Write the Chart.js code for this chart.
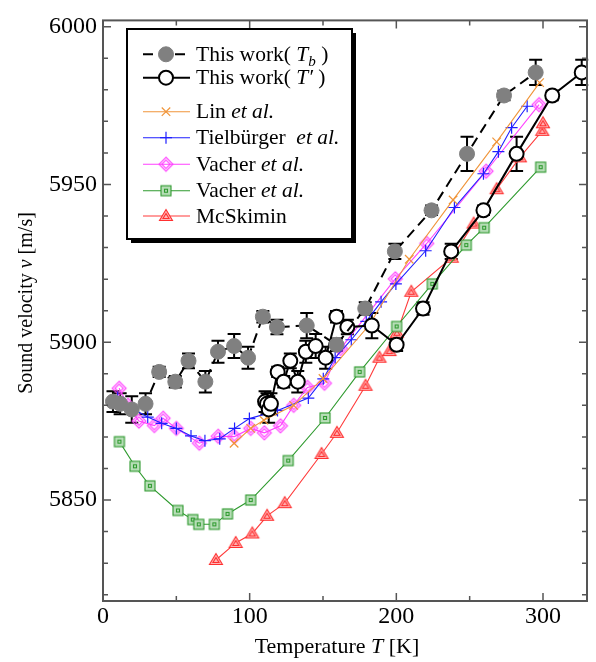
<!DOCTYPE html>
<html>
<head>
<meta charset="utf-8">
<title>Sound velocity vs temperature</title>
<script src="https://cdn.jsdelivr.net/npm/chart.js@4.4.1/dist/chart.umd.min.js"></script>
<style>
  html, body { margin: 0; padding: 0; background: #fff; }
  #wrap { width: 596px; height: 662px; }
</style>
</head>
<body>
<div id="wrap"><canvas id="sound" width="596" height="662"></canvas></div>
<script>
// This work, bath temperature T_b (gray dots, dashed) and corrected T' (open circles)
const tbT  = [6.8, 11.7, 19.6, 29, 38.3, 49.3, 58.3, 69.8, 78.4, 89.4, 98.9, 109, 118.6, 138.9, 159.2, 178.8, 199, 224, 248.2, 273.4, 295];
const tpT  = [110.5, 111.8, 113, 114.5, 119.1, 123.2, 127.7, 132.8, 138.3, 145, 151.8, 159.2, 166.6, 183.3, 200.2, 218.2, 237.4, 259.4, 282, 306.3, 326.4];
const ownV = [5881.2, 5880.5, 5878.7, 5880.5, 5890.6, 5887.5, 5894.1, 5887.5, 5897, 5898.8, 5895.1, 5908.1, 5904.8, 5905.3, 5899.2, 5910.7, 5928.8, 5941.8, 5959.7, 5978.2, 5985.5];
const ownErr = [3.3, 3.3, 4.2, 3.3, 1.6, 1.8, 2.3, 3.4, 3.5, 3.8, 3.5, 1.8, 2.3, 4, 2, 2, 2.4, 1.5, 5.4, 1.5, 4];

// literature
const linT = [89.4, 100.7, 109.7, 130, 150, 181.3, 208.8, 238.7, 268.4, 297.7];
const linV = [5868, 5872.7, 5875.3, 5880, 5888.5, 5905.3, 5926.3, 5945.1, 5963.5, 5982.3];

const tieT = [10, 20, 30.5, 40, 50, 60, 69.5, 79.6, 89.7, 99.8, 119, 140, 150.2, 158.3, 169.3, 179.5, 189.6, 199.7, 220, 239.6, 259.4, 269.6, 278.6, 289.2];
const tieV = [5882.5, 5879, 5876.3, 5874.3, 5872.7, 5870.3, 5868.8, 5869.4, 5872.7, 5875.8, 5878.4, 5882.3, 5888.4, 5895.1, 5900.8, 5906.6, 5912.8, 5918.5, 5929, 5942.7, 5953.4, 5960.4, 5968, 5974.8];

const vacT = [11, 17, 24.5, 35, 41, 50, 65.7, 78.5, 89.6, 100.7, 110, 121, 130, 139.4, 151, 162, 199.3, 220.7, 261.2, 297.3];
const vacV = [5885.4, 5880, 5875, 5873.6, 5875.9, 5872.7, 5868, 5870.2, 5870.1, 5872.7, 5871.3, 5873.5, 5880, 5885.7, 5887, 5898, 5920.1, 5931.3, 5954.2, 5975.3];

const vac2T = [11.2, 21.8, 32, 51.1, 61.2, 65.3, 75.9, 84.9, 100.7, 126.3, 151.4, 175, 200.2, 224.5, 247.7, 259.9, 298.4];
const vac2V = [5868.5, 5860.7, 5854.5, 5846.7, 5843.8, 5842.3, 5842.3, 5845.6, 5850, 5862.5, 5876, 5890.6, 5905, 5918.5, 5930.8, 5936.3, 5955.5];

const mcsT = [77, 90.5, 101.8, 111.9, 123.9, 149, 159.5, 179, 188.5, 195.3, 200.4, 210.2, 237.8, 252.7, 268.4, 284.2, 299.5, 300];
const mcsV = [5831, 5836.4, 5839.4, 5845, 5849, 5864.6, 5871.3, 5886.2, 5895.1, 5897.2, 5903, 5916, 5926.8, 5937.6, 5948.5, 5958.6, 5967, 5969.4];

// axis ticks
const xTicks = [0, 100, 200, 300];
const xMinor = [50, 150, 250];
const yTicks = [5850, 5900, 5950, 6000];
const yMinor = [5820, 5830, 5840, 5860, 5870, 5880, 5890, 5910, 5920, 5930, 5940, 5960, 5970, 5980, 5990];

const SERIF = "'Liberation Serif', serif";
const FRAME = '#555';
Chart.defaults.font.family = SERIF;

function pts(xs, ys) {
  return xs.map((x, i) => ({ x: x, y: ys[i] }));
}

// double-outlined markers (diamond / square / triangle)
function marker(kind, stroke, fill) {
  const c = document.createElement('canvas');
  c.width = c.height = 18;
  const g = c.getContext('2d');
  g.translate(9, 9);
  g.strokeStyle = stroke;
  g.lineWidth = 1.1;
  if (kind === 'diamond') {
    [7, 4.2].forEach(r => {
      g.beginPath();
      g.moveTo(0, -r); g.lineTo(r, 0); g.lineTo(0, r); g.lineTo(-r, 0); g.closePath();
      g.stroke();
    });
  } else if (kind === 'square') {
    g.fillStyle = fill;
    g.fillRect(-5, -5, 10, 10);
    g.strokeRect(-5, -5, 10, 10);
    g.strokeRect(-1.5, -1.5, 3, 3);
  } else {
    g.fillStyle = fill;
    g.beginPath();
    g.moveTo(0, -6.5); g.lineTo(6.5, 4.5); g.lineTo(-6.5, 4.5); g.closePath();
    g.fill(); g.stroke();
    g.beginPath();
    g.moveTo(0, -2.5); g.lineTo(3, 2.5); g.lineTo(-3, 2.5); g.closePath();
    g.stroke();
  }
  return c;
}

const datasets = [
  {
    label: 'tb', data: pts(tbT, ownV), showLine: true,
    borderColor: '#000', borderWidth: 2, borderDash: [10, 6],
    pointStyle: 'circle', pointRadius: 7.5, pointBackgroundColor: '#808080',
    pointBorderColor: '#808080', pointBorderWidth: 1,
    legend: [{ t: 'This work( ' }, { t: 'T', i: true }, { t: 'b', i: true, sub: true }, { t: ' )' }]
  },
  {
    label: 'tp', data: pts(tpT, ownV), showLine: true,
    borderColor: '#000', borderWidth: 2,
    pointStyle: 'circle', pointRadius: 7, pointBackgroundColor: '#fff',
    pointBorderColor: '#000', pointBorderWidth: 2,
    legend: [{ t: 'This work( ' }, { t: 'T\u2032', i: true }, { t: ' )' }]
  },
  {
    label: 'lin', data: pts(linT, linV), showLine: true,
    borderColor: '#f0953a', borderWidth: 1.1,
    pointStyle: 'crossRot', pointRadius: 6, pointBorderColor: '#f0953a',
    pointBackgroundColor: '#f0953a', pointBorderWidth: 1.2,
    legend: [{ t: 'Lin ' }, { t: 'et al.', i: true }]
  },
  {
    label: 'tie', data: pts(tieT, tieV), showLine: true,
    borderColor: '#1f1fff', borderWidth: 1.1,
    pointStyle: 'cross', pointRadius: 6, pointBorderColor: '#1f1fff',
    pointBackgroundColor: '#1f1fff', pointBorderWidth: 1.2,
    legend: [{ t: 'Tielb\u00fcrger  ' }, { t: 'et al.', i: true }]
  },
  {
    label: 'vac', data: pts(vacT, vacV), showLine: true,
    borderColor: '#ff40ff', borderWidth: 1.1,
    pointStyle: marker('diamond', '#ff40ff'), pointRadius: 7,
    legend: [{ t: 'Vacher ' }, { t: 'et al.', i: true }]
  },
  {
    label: 'vac2', data: pts(vac2T, vac2V), showLine: true,
    borderColor: '#2e9a2e', borderWidth: 1.1,
    pointStyle: marker('square', '#2e9a2e', '#b8deb8'), pointRadius: 6,
    legend: [{ t: 'Vacher ' }, { t: 'et al.', i: true }]
  },
  {
    label: 'mcs', data: pts(mcsT, mcsV), showLine: true,
    borderColor: '#ff3b3b', borderWidth: 1.1,
    pointStyle: marker('triangle', '#ff3030', '#ffb4b4'), pointRadius: 7,
    legend: [{ t: 'McSkimin' }]
  }
];

// mixed roman / italic text
function richWidth(ctx, parts, size) {
  let w = 0;
  parts.forEach(p => {
    const s = p.sub ? size * 0.7 : size;
    ctx.font = (p.i ? 'italic ' : '') + s + 'px ' + SERIF;
    w += ctx.measureText(p.t).width;
  });
  return w;
}
function richText(ctx, parts, x, y, size) {
  ctx.textBaseline = 'middle';
  ctx.textAlign = 'left';
  parts.forEach(p => {
    const s = p.sub ? size * 0.7 : size;
    ctx.font = (p.i ? 'italic ' : '') + s + 'px ' + SERIF;
    ctx.fillText(p.t, x, p.sub ? y + size * 0.3 : y);
    x += ctx.measureText(p.t).width;
  });
}

const errorBars = {
  id: 'errorBars',
  beforeDatasetsDraw(chart) {
    const { ctx, scales: { x, y } } = chart;
    ctx.save();
    ctx.strokeStyle = '#000';
    ctx.lineWidth = 2;
    [tbT, tpT].forEach(ts => {
      ts.forEach((t, i) => {
        const px = x.getPixelForValue(t);
        const hi = y.getPixelForValue(ownV[i] + ownErr[i]);
        const lo = y.getPixelForValue(ownV[i] - ownErr[i]);
        ctx.beginPath();
        ctx.moveTo(px, hi); ctx.lineTo(px, lo);
        ctx.moveTo(px - 6.5, hi); ctx.lineTo(px + 6.5, hi);
        ctx.moveTo(px - 6.5, lo); ctx.lineTo(px + 6.5, lo);
        ctx.stroke();
      });
    });
    ctx.restore();
  }
};

// frame with inward ticks on all four sides
const frame = {
  id: 'frame',
  afterDatasetsDraw(chart) {
    const { ctx, chartArea: a, scales: { x, y } } = chart;
    ctx.save();
    ctx.strokeStyle = FRAME;
    ctx.lineWidth = 1.5;
    ctx.beginPath();
    const tick = (vals, len) => {
      vals.forEach(v => {
        const px = x.getPixelForValue(v);
        ctx.moveTo(px, a.bottom); ctx.lineTo(px, a.bottom - len);
        ctx.moveTo(px, a.top); ctx.lineTo(px, a.top + len);
      });
    };
    const ytick = (vals, len) => {
      vals.forEach(v => {
        const py = y.getPixelForValue(v);
        ctx.moveTo(a.left, py); ctx.lineTo(a.left + len, py);
        ctx.moveTo(a.right, py); ctx.lineTo(a.right - len, py);
      });
    };
    tick(xTicks, 8); tick(xMinor, 5);
    ytick(yTicks, 8); ytick(yMinor, 5);
    ctx.stroke();
    ctx.lineWidth = 2;
    ctx.strokeRect(a.left, a.top, a.right - a.left, a.bottom - a.top);
    ctx.restore();
  }
};

const titlesAndLegend = {
  id: 'titlesAndLegend',
  afterDraw(chart) {
    const { ctx, chartArea: a } = chart;
    ctx.save();
    ctx.fillStyle = '#000';

    // x title
    const xt = [{ t: 'Temperature ' }, { t: 'T', i: true }, { t: ' [K]' }];
    richText(ctx, xt, 337 - richWidth(ctx, xt, 22) / 2, a.bottom + 46, 22);

    // y title
    const yt = [{ t: 'Sound velocity ' }, { t: 'v', i: true }, { t: ' [m/s]' }];
    ctx.save();
    ctx.translate(27, 303);
    ctx.rotate(-Math.PI / 2);
    richText(ctx, yt, -richWidth(ctx, yt, 20) / 2, 0, 20);
    ctx.restore();

    // legend box with drop shadow
    const bx = 127, by = 29, bw = 225, bh = 210;
    ctx.fillStyle = '#000';
    ctx.fillRect(bx + 4, by + 4, bw, bh);
    ctx.fillStyle = '#fff';
    ctx.fillRect(bx, by, bw, bh);
    ctx.strokeStyle = '#000';
    ctx.lineWidth = 2;
    ctx.strokeRect(bx, by, bw, bh);

    const rows = [54.3, 77.7, 111.7, 137.7, 164.3, 190.7, 216];
    const draw = Chart.helpers && Chart.helpers.drawPoint;
    chart.data.datasets.forEach((ds, i) => {
      const ry = rows[i];
      ctx.save();
      ctx.strokeStyle = ds.borderColor;
      ctx.lineWidth = ds.borderWidth;
      ctx.setLineDash(ds.borderDash || []);
      ctx.beginPath();
      ctx.moveTo(143, ry); ctx.lineTo(190, ry);
      ctx.stroke();
      ctx.setLineDash([]);
      ctx.fillStyle = ds.pointBackgroundColor || '#fff';
      ctx.strokeStyle = ds.pointBorderColor || ds.borderColor;
      ctx.lineWidth = ds.pointBorderWidth || 1;
      if (draw) {
        draw(ctx, { pointStyle: ds.pointStyle, radius: ds.pointRadius,
          borderWidth: ds.pointBorderWidth || 1, rotation: 0 }, 166, ry);
      }
      ctx.restore();
      ctx.fillStyle = '#000';
      richText(ctx, ds.legend, 196, ry + 1, 21.5);
    });
    ctx.restore();
  }
};

new Chart(document.getElementById('sound'), {
  type: 'scatter',
  data: { datasets: datasets },
  options: {
    responsive: false,
    animation: false,
    devicePixelRatio: 1,
    layout: { padding: { top: 13, right: 6, left: 0, bottom: 0 } },
    elements: { line: { tension: 0 } },
    plugins: { legend: { display: false }, tooltip: { enabled: false } },
    scales: {
      x: {
        type: 'linear', min: 0, max: 330,
        grid: { display: false, drawTicks: false },
        border: { display: false },
        afterBuildTicks: s => { s.ticks = xTicks.map(v => ({ value: v })); },
        afterFit: s => { s.height = 61; },
        ticks: { color: '#000', padding: 1, font: { family: SERIF, size: 24 },
          callback: v => String(v) }
      },
      y: {
        type: 'linear', min: 5818, max: 6002,
        grid: { display: false, drawTicks: false },
        border: { display: false },
        afterBuildTicks: s => { s.ticks = yTicks.map(v => ({ value: v })); },
        afterFit: s => { s.width = 103; },
        ticks: { color: '#000', padding: 6, font: { family: SERIF, size: 24 },
          callback: v => String(v) }
      }
    }
  },
  plugins: [errorBars, frame, titlesAndLegend]
});
</script>
</body>
</html>
